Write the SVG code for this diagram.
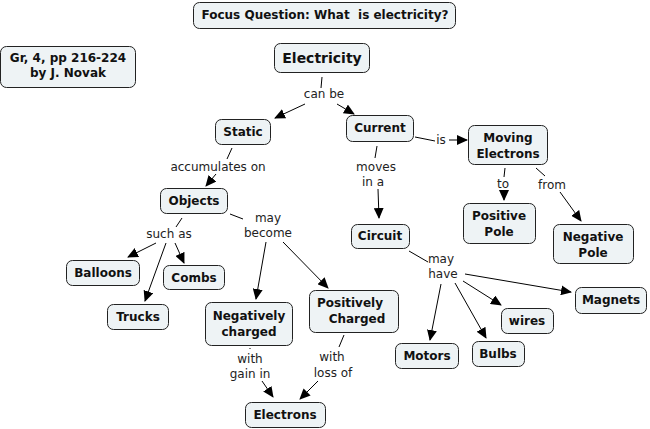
<svg xmlns="http://www.w3.org/2000/svg" width="650" height="429" viewBox="0 0 650 429">
<defs>
<marker id="ah" markerWidth="11" markerHeight="10" refX="10" refY="5" orient="auto" markerUnits="userSpaceOnUse">
<path d="M0,0 L11,5 L0,10 Z" fill="#000"/>
</marker>
<style>
.n rect{fill:#eef3f5;stroke:#222;stroke-width:1}
.n text{font-family:"DejaVu Sans","Verdana",sans-serif;font-weight:bold;font-size:12px;fill:#111;text-anchor:middle}
.l{font-family:"DejaVu Sans","Verdana",sans-serif;font-size:12px;fill:#222;text-anchor:middle}
.c line{stroke:#000;stroke-width:1}
.c line.a{marker-end:url(#ah)}
</style>
</defs>
<rect width="650" height="429" fill="#fff"/>
<g class="c" id="connectors">
<line x1="322" y1="77" x2="321" y2="88"/>
<line class="a" x1="305" y1="104" x2="275" y2="118"/>
<line class="a" x1="337" y1="104" x2="354" y2="114"/>
<line x1="415" y1="137" x2="435" y2="141"/>
<line class="a" x1="449" y1="140" x2="467" y2="140"/>
<line x1="505" y1="168" x2="504" y2="177"/>
<line class="a" x1="504" y1="190" x2="504" y2="200"/>
<line x1="536" y1="168" x2="545" y2="176"/>
<line class="a" x1="560" y1="192" x2="581" y2="221"/>
<line x1="377" y1="146" x2="375" y2="158"/>
<line class="a" x1="378" y1="189" x2="379" y2="218"/>
<line x1="409" y1="251" x2="428" y2="262"/>
<line class="a" x1="441" y1="284" x2="430" y2="340"/>
<line class="a" x1="455" y1="283" x2="486" y2="338"/>
<line class="a" x1="463" y1="281" x2="501" y2="305"/>
<line class="a" x1="465" y1="274" x2="571" y2="292"/>
<line x1="232" y1="148" x2="227" y2="159"/>
<line class="a" x1="216" y1="174" x2="206" y2="186"/>
<line x1="182" y1="218" x2="176" y2="227"/>
<line class="a" x1="156" y1="243" x2="128" y2="257"/>
<line class="a" x1="166" y1="243" x2="145" y2="301"/>
<line class="a" x1="175" y1="243" x2="184" y2="263"/>
<line x1="230" y1="214" x2="243" y2="219"/>
<line class="a" x1="266" y1="242" x2="256" y2="299"/>
<line class="a" x1="283" y1="242" x2="328" y2="288"/>
<line x1="250" y1="348" x2="250" y2="349"/>
<line class="a" x1="262" y1="381" x2="273" y2="397"/>
<line x1="344" y1="335" x2="339" y2="347"/>
<line class="a" x1="318" y1="381" x2="300" y2="399"/>
</g>
<g id="labels">
<text class="l" x="324" y="98">can be</text>
<text class="l" x="441" y="144">is</text>
<text class="l" x="503" y="188">to</text>
<text class="l" x="552" y="189">from</text>
<text class="l" x="376" y="171">moves</text>
<text class="l" x="373" y="186">in a</text>
<text class="l" x="441" y="263">may</text>
<text class="l" x="443" y="278">have</text>
<text class="l" x="218" y="171">accumulates on</text>
<text class="l" x="169" y="238">such as</text>
<text class="l" x="268" y="222">may</text>
<text class="l" x="268" y="237">become</text>
<text class="l" x="250" y="363">with</text>
<text class="l" x="250" y="378">gain in</text>
<text class="l" x="332" y="361">with</text>
<text class="l" x="333" y="377">loss of</text>
</g>
<g class="n" id="focus"><rect x="193.5" y="2.5" width="262" height="26" rx="6"/><text x="325" y="19" xml:space="preserve" style="white-space:pre">Focus Question: What  is electricity?</text></g>
<g class="n" id="author"><rect x="0.5" y="46.5" width="135" height="41" rx="6"/><text x="68" y="62">Gr, 4, pp 216-224</text><text x="68" y="77">by J. Novak</text></g>
<g class="n" id="electricity"><rect x="274.5" y="43.5" width="95" height="29" rx="6"/><text x="322" y="63" style="font-size:14px">Electricity</text></g>
<g class="n" id="static"><rect x="215.5" y="119.5" width="55" height="25" rx="6"/><text x="243" y="136">Static</text></g>
<g class="n" id="current"><rect x="346.5" y="115.5" width="67" height="26" rx="6"/><text x="380" y="132">Current</text></g>
<g class="n" id="moving"><rect x="468.5" y="125.5" width="79" height="39" rx="6"/><text x="508" y="142">Moving</text><text x="508" y="158">Electrons</text></g>
<g class="n" id="positive"><rect x="463.5" y="203.5" width="72" height="40" rx="6"/><text x="499" y="220">Positive</text><text x="499" y="236">Pole</text></g>
<g class="n" id="negative"><rect x="553.5" y="224.5" width="80" height="39" rx="6"/><text x="593" y="241">Negative</text><text x="593" y="257">Pole</text></g>
<g class="n" id="circuit"><rect x="351.5" y="224.5" width="58" height="24" rx="6"/><text x="380" y="240">Circuit</text></g>
<g class="n" id="motors"><rect x="395.5" y="343.5" width="63" height="25" rx="6"/><text x="427" y="360">Motors</text></g>
<g class="n" id="bulbs"><rect x="472.5" y="341.5" width="52" height="25" rx="6"/><text x="498" y="358">Bulbs</text></g>
<g class="n" id="wires"><rect x="501.5" y="308.5" width="52" height="25" rx="6"/><text x="527" y="325">wires</text></g>
<g class="n" id="magnets"><rect x="575.5" y="287.5" width="71" height="26" rx="6"/><text x="611" y="304">Magnets</text></g>
<g class="n" id="objects"><rect x="160.5" y="188.5" width="67" height="25" rx="6"/><text x="194" y="205">Objects</text></g>
<g class="n" id="balloons"><rect x="66.5" y="260.5" width="73" height="25" rx="6"/><text x="103" y="277">Balloons</text></g>
<g class="n" id="combs"><rect x="163.5" y="265.5" width="61" height="24" rx="6"/><text x="194" y="282">Combs</text></g>
<g class="n" id="trucks"><rect x="107.5" y="304.5" width="61" height="25" rx="6"/><text x="138" y="321">Trucks</text></g>
<g class="n" id="negcharged"><rect x="205.5" y="302.5" width="87" height="43" rx="6"/><text x="249" y="320">Negatively</text><text x="249" y="336">charged</text></g>
<g class="n" id="poscharged"><rect x="309.5" y="290.5" width="89" height="42" rx="6"/><text x="350" y="307">Positively</text><text x="357" y="323">Charged</text></g>
<g class="n" id="electrons"><rect x="245.5" y="402.5" width="80" height="25" rx="6"/><text x="285" y="419">Electrons</text></g>
</svg>
